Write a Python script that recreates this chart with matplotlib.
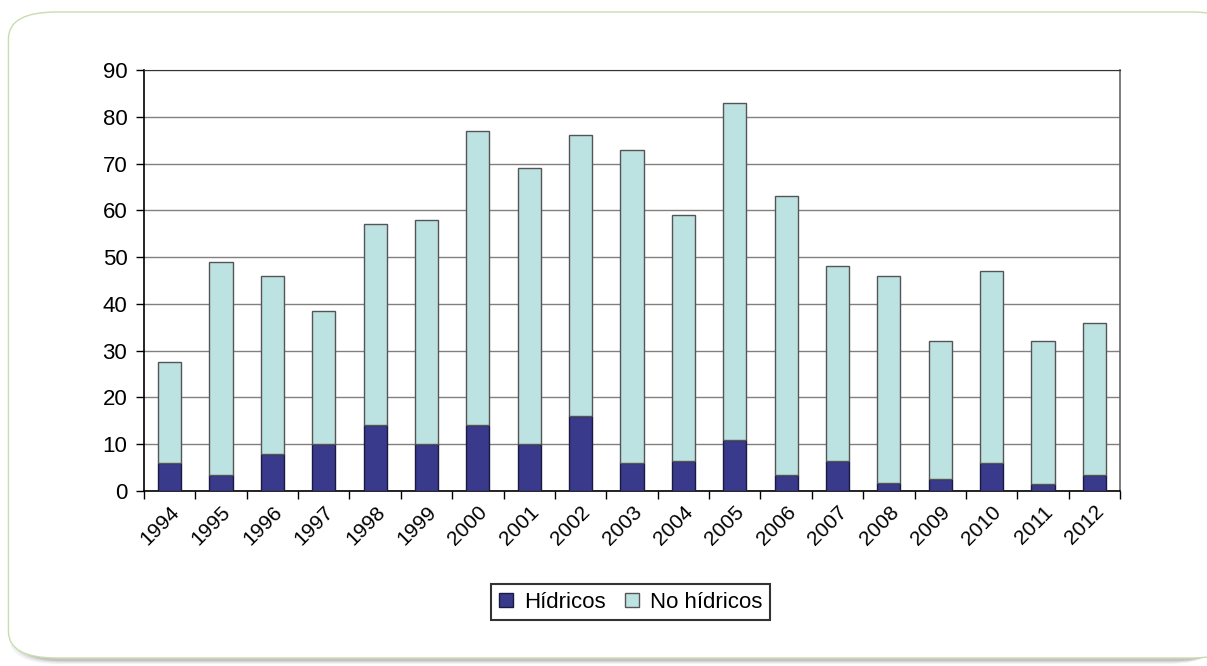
import matplotlib.pyplot as plt
import numpy as np
from matplotlib.patches import FancyBboxPatch

plt.rcParams['font.family'] = ['Liberation Sans', 'DejaVu Sans']

years = ['1994', '1995', '1996', '1997', '1998', '1999', '2000', '2001', '2002', '2003',
         '2004', '2005', '2006', '2007', '2008', '2009', '2010', '2011', '2012']
hidricos = [6, 3.5, 8, 10, 14, 10, 14, 10, 16, 6, 6.5, 11, 3.5, 6.5, 1.7, 2.6, 6, 1.4, 3.4]
no_hidricos = [21.5, 45.5, 38, 28.5, 43, 48, 63, 59, 60, 67, 52.5, 72, 59.5, 41.5, 44.3,
               29.4, 41, 30.6, 32.6]

fig = plt.figure(figsize=(12.07, 6.66), dpi=100)

# rounded panel with a soft shadow behind the chart
for i, a in enumerate([0.05, 0.08, 0.12]):
    fig.patches.append(FancyBboxPatch((0.008 + 0.002 * i, 0.003 + 0.002 * i), 1.0, 0.975,
                                      boxstyle='round,pad=0,rounding_size=0.04',
                                      transform=fig.transFigure, facecolor='black',
                                      edgecolor='none', alpha=a, zorder=0))
fig.patches.append(FancyBboxPatch((0.007, 0.012), 1.02, 0.97,
                                  boxstyle='round,pad=0,rounding_size=0.04',
                                  transform=fig.transFigure, facecolor='white',
                                  edgecolor='#c8ddb0', linewidth=1.0, zorder=1))

ax = fig.add_axes([0.1193, 0.2628, 0.8087, 0.6321])
ax.set_zorder(2)
ax.patch.set_alpha(0)

x = np.arange(len(years))
w = 0.45
ax.bar(x, hidricos, w, color='#3a3a8c', edgecolor='#1a1a40', linewidth=1.0,
       label='Hídricos', zorder=3)
ax.bar(x, no_hidricos, w, bottom=hidricos, color='#bde2e2', edgecolor='#555555',
       linewidth=1.0, label='No hídricos', zorder=3)

ax.set_xlim(-0.5, len(years) - 0.5)
ax.set_ylim(0, 90)
ax.set_yticks(range(0, 91, 10))
ax.yaxis.grid(True, color='#808080', linewidth=1.0, zorder=1)
ax.set_axisbelow(True)

ax.set_xticks(x)
ax.set_xticklabels(years, rotation=45, ha='right', rotation_mode='anchor', fontsize=15)
ax.tick_params(axis='x', length=0, pad=8)
ax.set_xticks(np.arange(-0.5, len(years)), minor=True)
ax.tick_params(axis='x', which='minor', length=6, width=1, color='black')
ax.tick_params(axis='y', length=6, width=1, labelsize=16, pad=6)

for s in ['left', 'bottom']:
    ax.spines[s].set_color('black')
    ax.spines[s].set_linewidth(1.2)
ax.spines['top'].set_color('#333333')
ax.spines['right'].set_color('#666666')
ax.spines['right'].set_linewidth(1.2)

leg = fig.legend(loc='center', bbox_to_anchor=(0.5225, 0.096), ncol=2, frameon=True,
                 fancybox=False, edgecolor='black', fontsize=16, handlelength=0.6,
                 handleheight=0.6, handletextpad=0.5, columnspacing=0.9,
                 borderpad=0.35, borderaxespad=0.0)
leg.get_frame().set_linewidth(1.5)

fig.savefig('out.png', dpi=100)
